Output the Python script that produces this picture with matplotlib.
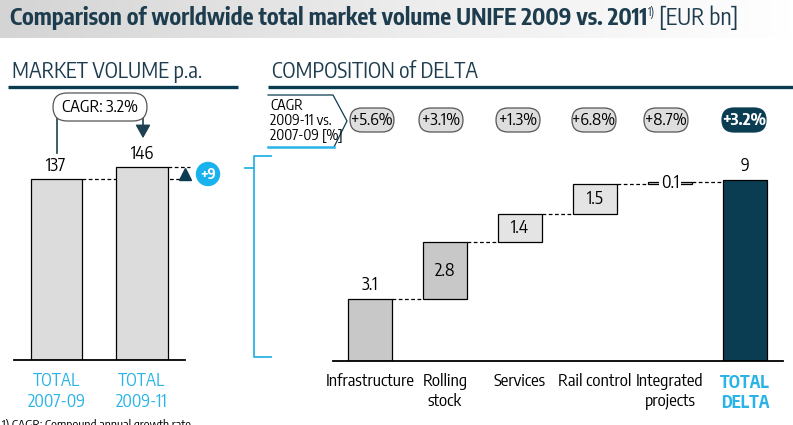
import numpy as np
import matplotlib
matplotlib.use("Agg")
import matplotlib.pyplot as plt
from matplotlib import font_manager
from matplotlib.patches import FancyBboxPatch, Circle
from matplotlib.colors import LinearSegmentedColormap

# data
periods = ['TOTAL\n2007-09', 'TOTAL\n2009-11']
volumes = [137, 146]
market_cagr = 'CAGR: 3.2%'

segments = ['Infrastructure', 'Rolling\nstock', 'Services', 'Rail control', 'Integrated\nprojects']
deltas = [3.1, 2.8, 1.4, 1.5, 0.1]
total_label = 'TOTAL\nDELTA'
total_delta = 9
cagr = ['+5.6%', '+3.1%', '+1.3%', '+6.8%', '+8.7%', '+3.2%']

# look for a narrow sans font, else fall back to Liberation Sans a bit smaller
fonts = font_manager.fontManager.ttflist
narrow = None
for f in fonts:
    n = f.name.lower()
    if ('narrow' in n or 'condensed' in n) and 'serif' not in n and 'mono' not in n:
        narrow = f.name
        if 'sans' in n:
            break
stretch = 'normal'
if narrow is None:
    for f in fonts:
        if str(f.stretch) in ('condensed', 'semi-condensed') and 'Sans' in f.name and 'Mono' not in f.name:
            narrow = f.name
            stretch = 'condensed'
            break
if narrow is None:
    narrow = 'Liberation Sans'
    FS = 0.86
else:
    FS = 1.0
plt.rcParams['font.family'] = [narrow, 'DejaVu Sans']
plt.rcParams['font.stretch'] = stretch

NAVY = '#0b3d52'
CYAN = '#29b3e6'
W, H = 793, 425

fig = plt.figure(figsize=(W / 100, H / 100), dpi=100)


def px_axes(x0, y0, x1, y1, **kw):
    return fig.add_axes([x0 / W, 1 - y1 / H, (x1 - x0) / W, (y1 - y0) / H], **kw)


# overlay in pixel coordinates
ov = px_axes(0, 0, W, H, zorder=5)
ov.set_xlim(0, W)
ov.set_ylim(H, 0)
ov.axis('off')
ov.patch.set_alpha(0)

# title band
grad = np.linspace(0, 1, 256).reshape(1, -1)
cmap = LinearSegmentedColormap.from_list('band', ['#d4d4d4', '#ececec', '#ffffff'])
ov.imshow(grad, cmap=cmap, extent=(0, W, 38, 0), aspect='auto', zorder=0)

r = fig.canvas.get_renderer()
t1 = ov.text(10, 18, 'Comparison of worldwide total market volume UNIFE 2009 vs. 2011',
             fontsize=16.5 * FS, fontweight='bold', color='#1d3c4e', va='center', ha='left', zorder=3)
x1 = t1.get_window_extent(r).x1
t2 = ov.text(x1 + 1, 12, '1)', fontsize=8.5 * FS, color='#1d3c4e', va='center', ha='left', zorder=3)
x2 = t2.get_window_extent(r).x1
ov.text(x2 + 4, 18, '[EUR bn]', fontsize=16.5 * FS, color='#1d3c4e', va='center', ha='left', zorder=3)

# section headers
ov.text(12, 72, 'MARKET VOLUME p.a.', fontsize=15.5 * FS, color='#1d3c4e', va='center')
ov.plot([8, 238], [87, 87], color=NAVY, lw=2.4, solid_capstyle='butt')
ov.text(272, 72, 'COMPOSITION of DELTA', fontsize=15.5 * FS, color='#1d3c4e', va='center')
ov.plot([268, W], [87, 87], color=NAVY, lw=2.4, solid_capstyle='butt')

# ---- left panel: market volume
axl = px_axes(14, 100, 185, 360)
bw_l = 0.6
xl = np.arange(len(volumes))
axl.bar(xl, volumes, width=bw_l, color='#dcdcdc', edgecolor='black', linewidth=0.9, zorder=2)
for x, v in zip(xl, volumes):
    axl.text(x, v + 3, str(v), ha='center', va='bottom', fontsize=12.5 * FS)
axl.set_xlim(-0.497, 1.503)
axl.set_ylim(0, 196.7)
x_dash_end = 1.56
for x, v in zip(xl, volumes):
    axl.plot([x + bw_l / 2, x_dash_end], [v, v], color='black', lw=0.9, ls=(0, (3, 2)),
             clip_on=False, zorder=1)
axl.plot([1.5], [volumes[0] + 0.38 * (volumes[1] - volumes[0])], marker='^', ms=9,
         color=NAVY, clip_on=False, zorder=4)
axl.set_xticks(xl)
axl.set_xticklabels(periods, color=CYAN, fontsize=12.5 * FS)
axl.tick_params(axis='x', length=0, pad=9)
axl.set_yticks([])
for s in ['top', 'right', 'left']:
    axl.spines[s].set_visible(False)
axl.spines['bottom'].set_linewidth(1.3)

# CAGR bubble on the left
ov.add_patch(FancyBboxPatch((53, 93), 94, 28, boxstyle='round,pad=0,rounding_size=14',
                            facecolor='white', edgecolor='#555555', lw=0.9, zorder=3))
ov.text(100, 107.5, market_cagr, ha='center', va='center', fontsize=12 * FS, zorder=4)
ov.plot([57, 57], [116, 153], color='#1d4150', lw=1.2, zorder=2)
ov.annotate('', xy=(143, 141), xytext=(143, 110),
            arrowprops=dict(arrowstyle='-|>,head_width=0.45,head_length=0.8', color='#1d4150', lw=1.2),
            zorder=2)

# +9 badge
ov.add_patch(Circle((208, 174), 11.5, color='#1ab2ee', zorder=4))
ov.text(208, 174, f'+{volumes[1] - volumes[0]}', ha='center', va='center', color='white',
        fontsize=10.5 * FS, fontweight='bold', zorder=5)

# ---- right panel: waterfall
axr = px_axes(333, 100, 783, 361)
bw = 0.587
xs = np.arange(len(deltas))
tops = np.cumsum(deltas)
bottoms = tops - np.array(deltas)
fills = ['#c8c8c8', '#c8c8c8', '#e4e4e4', '#e4e4e4', '#e4e4e4']
axr.bar(xs, deltas, bottom=bottoms, width=bw, color=fills, edgecolor='black', linewidth=0.9, zorder=2)
axr.bar([len(deltas)], [total_delta], width=bw, color=NAVY, edgecolor='black', linewidth=0.9, zorder=2)

# connectors
for i in range(len(deltas)):
    axr.plot([i + bw / 2, i + 1 - bw / 2], [tops[i], tops[i]], color='black', lw=0.9,
             ls=(0, (3, 2)), zorder=1)

# value labels
axr.text(0, tops[0] + 0.25, f'{deltas[0]}', ha='center', va='bottom', fontsize=12.5 * FS)
for i in range(1, len(deltas) - 1):
    axr.text(i, bottoms[i] + deltas[i] / 2, f'{deltas[i]}', ha='center', va='center',
             fontsize=12.5 * FS)
i = len(deltas) - 1
axr.text(i, bottoms[i] + deltas[i] / 2, f'{deltas[i]}', ha='center', va='center',
         fontsize=12.5 * FS, zorder=3, bbox=dict(facecolor='white', edgecolor='none', pad=1.2))
axr.text(len(deltas), total_delta + 0.25, f'{total_delta}', ha='center', va='bottom',
         fontsize=12.5 * FS)

axr.set_xlim(-0.493, 5.507)
axr.set_ylim(0, 12.99)
axr.set_xticks(np.arange(len(deltas) + 1))
axr.set_xticklabels(segments + [total_label], fontsize=12.2 * FS)
lbl = axr.get_xticklabels()[-1]
lbl.set_color(CYAN)
lbl.set_fontweight('bold')
axr.tick_params(axis='x', length=0, pad=9)
axr.set_yticks([])
for s in ['top', 'right', 'left']:
    axr.spines[s].set_visible(False)
axr.spines['bottom'].set_linewidth(1.3)

# bracket
ov.plot([271, 254, 254, 271], [156, 156, 357, 357], color=CYAN, lw=1.3)
ov.plot([245, 254], [168, 168], color=CYAN, lw=1.3)

# CAGR header arrow box
ov.plot([268, 333, 347, 334], [95, 95, 121, 147], color=NAVY, lw=0.9)
ov.plot([334, 268], [147, 147], color=CYAN, lw=1.8)
ov.text(270, 121, 'CAGR\n2009-11 vs.\n2007-09 [%]', ha='left', va='center', fontsize=10.5 * FS,
        linespacing=1.05)

pill_x = [372, 441, 518, 594, 666, 744]
for j, (px, lab) in enumerate(zip(pill_x, cagr)):
    dark = j == len(cagr) - 1
    ov.add_patch(FancyBboxPatch((px - 22, 108), 44, 24,
                                boxstyle='round,pad=0,rounding_size=12',
                                facecolor=NAVY if dark else '#dedede',
                                edgecolor=NAVY if dark else '#555555', lw=0.9, zorder=3))
    ov.text(px, 120.5, lab, ha='center', va='center', fontsize=12 * FS,
            color='white' if dark else 'black', fontweight='bold' if dark else 'normal', zorder=4)

# footnote (cut at the bottom edge)
ov.text(2, 419, '1) CAGR: Compound annual growth rate', ha='left', va='top', fontsize=9 * FS)

plt.savefig('out.png', dpi=100)
